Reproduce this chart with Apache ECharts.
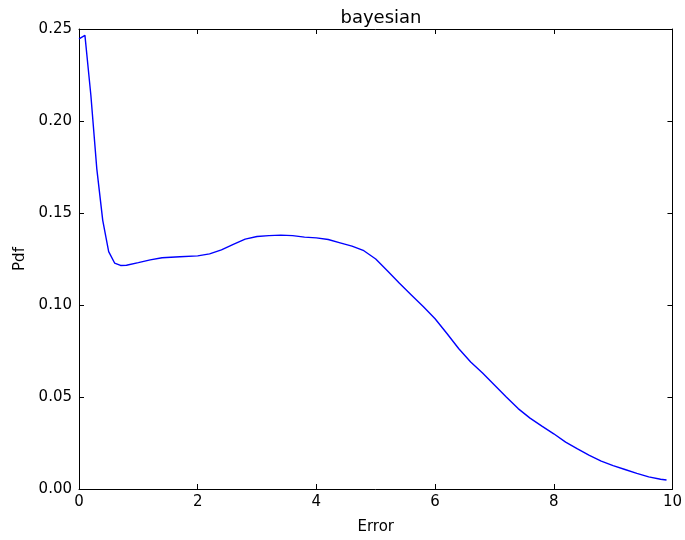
<!DOCTYPE html>
<html>
<head>
<meta charset="utf-8">
<script src="https://cdn.jsdelivr.net/npm/echarts@6/dist/echarts.min.js"></script>
<style>html,body{margin:0;padding:0;background:#fff}#c{width:685px;height:540px}</style>
</head>
<body>
<div id="c"></div>
<script>
const errorX = [0, 0.1, 0.2, 0.3, 0.4, 0.5, 0.6, 0.7, 0.8, 1.0, 1.2, 1.4, 1.7, 2.0, 2.2, 2.4, 2.6, 2.8, 3.0, 3.2, 3.4, 3.6, 3.8, 4.0, 4.2, 4.4, 4.6, 4.8, 5.0, 5.2, 5.4, 5.6, 5.8, 6.0, 6.2, 6.4, 6.6, 6.8, 7.0, 7.2, 7.4, 7.6, 7.8, 8.0, 8.2, 8.4, 8.6, 8.8, 9.0, 9.2, 9.4, 9.6, 9.8, 9.9];
const pdfY = [0.2446, 0.2465, 0.214, 0.174, 0.146, 0.129, 0.1228, 0.1215, 0.1216, 0.1230, 0.1245, 0.1257, 0.1262, 0.1267, 0.1278, 0.1300, 0.1330, 0.1358, 0.1372, 0.1377, 0.1380, 0.1377, 0.1369, 0.1365, 0.1356, 0.1338, 0.1320, 0.1295, 0.1250, 0.1185, 0.1118, 0.1055, 0.0992, 0.0925, 0.0845, 0.0762, 0.0690, 0.0630, 0.0565, 0.0500, 0.0437, 0.0385, 0.0342, 0.0300, 0.0255, 0.0218, 0.0183, 0.0152, 0.0127, 0.0106, 0.0085, 0.0066, 0.0053, 0.0049];
const xTicks = [0, 2, 4, 6, 8, 10];
const yTicks = [0, 0.05, 0.10, 0.15, 0.20, 0.25];

const font = 'DejaVu Sans';
const chart = echarts.init(document.getElementById('c'), null, {renderer: 'canvas'});
const axisLine = {show: true, onZero: false, lineStyle: {color: '#000', width: 1}};
const tickIn = {show: true, inside: true, length: 5, lineStyle: {color: '#000'}};
chart.setOption({
  animation: false,
  backgroundColor: '#fff',
  title: {text: 'bayesian', left: 376, top: 4, textAlign: 'center',
    textStyle: {fontFamily: font, fontSize: 18, fontWeight: 'normal', color: '#000'}},
  grid: {left: 79, right: 11, top: 29, bottom: 50},
  xAxis: [
    {type: 'value', min: xTicks[0], max: xTicks[xTicks.length-1], interval: 2,
     name: 'Error', nameLocation: 'middle', nameGap: 31,
     nameTextStyle: {fontFamily: font, fontSize: 15, color: '#000'},
     axisLine, axisTick: tickIn, splitLine: {show: false},
     axisLabel: {fontFamily: font, fontSize: 15, color: '#000', margin: 6}},
    {type: 'value', position: 'top', min: xTicks[0], max: xTicks[xTicks.length-1], interval: 2,
     axisLine, axisTick: tickIn, splitLine: {show: false}, axisLabel: {show: false}}
  ],
  yAxis: [
    {type: 'value', min: yTicks[0], max: yTicks[yTicks.length-1], interval: 0.05,
     name: 'Pdf', nameLocation: 'middle', nameGap: 50, nameRotate: 90,
     nameTextStyle: {fontFamily: font, fontSize: 15, color: '#000'},
     axisLine, axisTick: tickIn, splitLine: {show: false},
     axisLabel: {fontFamily: font, fontSize: 15, color: '#000', margin: 7,
       formatter: v => v.toFixed(2)}},
    {type: 'value', position: 'right', min: yTicks[0], max: yTicks[yTicks.length-1], interval: 0.05,
     axisLine, axisTick: tickIn, splitLine: {show: false}, axisLabel: {show: false}}
  ],
  series: [{
    type: 'line', data: errorX.map((x, i) => [x, pdfY[i]]),
    showSymbol: false, symbol: 'none', smooth: false,
    lineStyle: {color: '#0000ff', width: 1.4}
  }]
});
</script>
</body>
</html>
